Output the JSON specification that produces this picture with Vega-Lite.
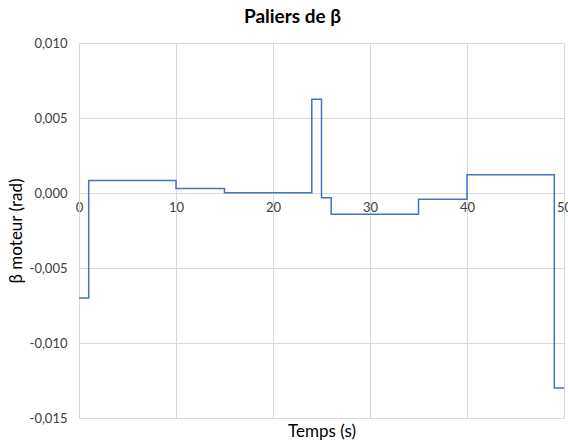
{
  "$schema": "https://vega.github.io/schema/vega-lite/v6.json",
  "width": 485,
  "height": 375,
  "autosize": {"type": "none"},
  "padding": {"left": 79, "top": 43, "right": 4, "bottom": 26},
  "background": "white",
  "title": {
    "text": "Paliers de β",
    "font": "Lato",
    "fontSize": 19,
    "fontWeight": "bold",
    "color": "#000000",
    "anchor": "middle",
    "dx": -29,
    "offset": 10
  },
  "config": {
    "view": {"stroke": null},
    "font": "Lato"
  },
  "data": {
    "values": [
      {"t": 0, "beta": -0.007},
      {"t": 1, "beta": 0.00083},
      {"t": 10, "beta": 0.0003},
      {"t": 15, "beta": 0.00002},
      {"t": 24, "beta": 0.00625},
      {"t": 25, "beta": -0.00032},
      {"t": 26, "beta": -0.00142},
      {"t": 35, "beta": -0.00041},
      {"t": 40, "beta": 0.00121},
      {"t": 49, "beta": -0.013},
      {"t": 50, "beta": -0.013}
    ]
  },
  "mark": {"type": "line", "interpolate": "step-after", "color": "#4472C4", "strokeWidth": 1.5},
  "encoding": {
    "x": {
      "field": "t",
      "type": "quantitative",
      "scale": {"domain": [0, 50], "nice": false},
      "axis": {
        "values": [0, 10, 20, 30, 40, 50],
        "offset": -225,
        "domain": true,
        "domainColor": "#D9D9D9",
        "ticks": false,
        "grid": true,
        "gridColor": "#D9D9D9",
        "labelFont": "Lato",
        "labelFontSize": 13,
        "labelColor": "#404040",
        "labelPadding": 8,
        "labelFlush": false,
        "labelOverlap": false,
        "title": "Temps (s)",
        "titleFont": "Lato",
        "titleFontSize": 17,
        "titleFontWeight": "normal",
        "titleColor": "#000000",
        "titleBaseline": "alphabetic",
        "titleY": 243
      }
    },
    "y": {
      "field": "beta",
      "type": "quantitative",
      "scale": {"domain": [-0.015, 0.01], "nice": false, "zero": false},
      "axis": {
        "values": [-0.015, -0.01, -0.005, 0, 0.005, 0.01],
        "labelExpr": "(datum.value < -0.0000001 ? '-' : '') + replace(format(abs(datum.value), '.3f'), '.', ',')",
        "domain": true,
        "domainColor": "#D9D9D9",
        "ticks": false,
        "grid": true,
        "gridColor": "#D9D9D9",
        "labelFont": "Lato",
        "labelFontSize": 13,
        "labelColor": "#404040",
        "labelPadding": 12,
        "labelBaseline": "middle",
        "labelFlush": false,
        "title": "β moteur (rad)",
        "titleFont": "Lato",
        "titleFontSize": 17,
        "titleFontWeight": "normal",
        "titleColor": "#000000",
        "titleX": -63,
        "titleBaseline": "middle"
      }
    }
  }
}
